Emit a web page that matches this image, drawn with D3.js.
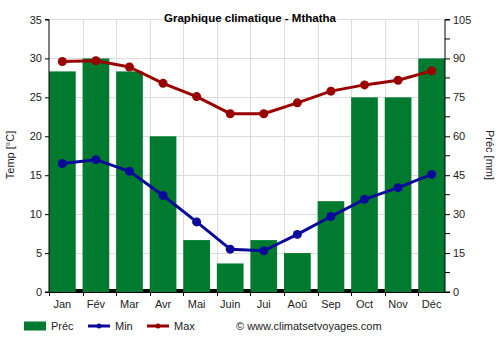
<!DOCTYPE html>
<html><head><meta charset="utf-8">
<script src="https://cdn.jsdelivr.net/npm/d3@7"></script>
<style>body{margin:0;background:#fff}svg{display:block;font-family:"Liberation Sans",Arial,sans-serif}</style>
</head><body><svg id="c" width="500" height="350"></svg>
<script>
const months = ["Jan","Fév","Mar","Avr","Mai","Juin","Jui","Aoû","Sep","Oct","Nov","Déc"];
const precip = [85,90,85,60,20,11,20,15,35,75,75,90];
const tMin = [16.5,17.0,15.5,12.4,9.0,5.5,5.3,7.4,9.7,11.9,13.4,15.1];
const tMax = [29.6,29.7,28.9,26.8,25.1,22.9,22.9,24.3,25.8,26.6,27.2,28.4];
const tempTicks = [0,5,10,15,20,25,30,35];
const precTicks = [0,15,30,45,60,75,90,105];
const precMinor = [7.5,22.5,37.5,52.5,67.5,82.5,97.5];

const svg = d3.select("#c");
const L = 49, R = 445, T = 19.5, B = 292;
const x = d3.scaleBand().domain(months).range([L, R]).paddingInner(0.205).paddingOuter(0);
const yT = d3.scaleLinear().domain([0,35]).range([B, T]);
const yP = d3.scaleLinear().domain([0,105]).range([B, T]);
const green = "#007a2f", blue = "#0a0a9a", red = "#990000", grid = "#dcdcdc";

// grid
svg.append("g").selectAll("line").data(tempTicks.slice(1)).join("line")
  .attr("x1", L).attr("x2", R).attr("y1", d=>yT(d)).attr("y2", d=>yT(d))
  .attr("stroke", grid).attr("stroke-width", 1).attr("shape-rendering","crispEdges");
svg.append("g").selectAll("line").data(months.slice(1)).join("line")
  .attr("x1", d=>Math.round(x(d))+0.5).attr("x2", d=>Math.round(x(d))+0.5).attr("y1", T).attr("y2", B)
  .attr("stroke", grid).attr("stroke-width", 1);

// black strip
svg.append("rect").attr("x", L).attr("y", B-3).attr("width", R-L).attr("height", 3).attr("fill", "#000");

// bars
svg.append("g").selectAll("rect").data(precip).join("rect")
  .attr("x", (d,i)=>x(months[i])).attr("width", x.bandwidth())
  .attr("y", d=>yP(d)).attr("height", d=>B-yP(d)).attr("fill", green);

// axes
const fs = 11;
const leftAx = svg.append("g").attr("transform", `translate(${L},0)`)
  .call(d3.axisLeft(yT).tickValues(tempTicks).tickSize(4).tickPadding(3));
const rightAx = svg.append("g").attr("transform", `translate(${R},0)`)
  .call(d3.axisRight(yP).tickValues(precTicks).tickSize(5).tickPadding(3));
svg.append("g").attr("transform", `translate(${R},0)`).selectAll("line").data(precMinor).join("line")
  .attr("x1",0).attr("x2",5).attr("y1", d=>yP(d)).attr("y2", d=>yP(d)).attr("stroke","#000");
const bottomAx = svg.append("g").attr("transform", `translate(0,${B})`)
  .call(d3.axisBottom(x).tickSize(0).tickPadding(8));
svg.append("g").attr("transform", `translate(0,${B})`).selectAll("line").data(months.slice(1)).join("line")
  .attr("x1", d=>Math.round(x(d))+0.5).attr("x2", d=>Math.round(x(d))+0.5).attr("y1",0).attr("y2",4).attr("stroke","#000");
[leftAx, rightAx, bottomAx].forEach(g=>{
  g.selectAll("text").attr("font-size", fs).attr("fill", "#222").attr("font-family","Liberation Sans, Arial, sans-serif");
  g.select(".domain").attr("stroke","#000");
  g.selectAll(".tick line").attr("stroke","#000");
});
leftAx.select(".domain").attr("d", `M-4,${T}H0V${B}H-4`);
rightAx.select(".domain").attr("d", `M5,${T}H0V${B}H5`);
bottomAx.select(".domain").attr("d", `M${L},0.5H${R}`);
bottomAx.append("line").attr("x1", L+0.5).attr("x2", L+0.5).attr("y1",0).attr("y2",4).attr("stroke","#000");

// lines
const lineGen = d3.line().x((d,i)=>x(months[i])+x.bandwidth()/2).y(d=>yT(d));
[[tMin, blue],[tMax, red]].forEach(([data,col])=>{
  svg.append("path").datum(data).attr("d", lineGen).attr("fill","none")
    .attr("stroke", col).attr("stroke-width", 3).attr("stroke-linejoin","round");
  svg.append("g").selectAll("circle").data(data).join("circle")
    .attr("cx",(d,i)=>x(months[i])+x.bandwidth()/2).attr("cy", d=>yT(d)).attr("r", 4.5).attr("fill", col);
});

// title & labels
svg.append("text").attr("x", 250).attr("y", 22).attr("text-anchor","middle")
  .attr("font-size", 11.5).attr("font-weight","bold").attr("fill","#000").text("Graphique climatique - Mthatha");
svg.append("text").attr("transform","translate(14,155) rotate(-90)").attr("text-anchor","middle")
  .attr("font-size", 11).attr("fill","#222").text("Temp [°C]");
svg.append("text").attr("transform","translate(486,155) rotate(90)").attr("text-anchor","middle")
  .attr("font-size", 11).attr("fill","#222").text("Préc [mm]");

// legend
const ly = 326;
svg.append("rect").attr("x",24).attr("y",ly-4.5).attr("width",22).attr("height",9).attr("fill",green);
svg.append("text").attr("x",51).attr("y",ly+4).attr("font-size",11).attr("fill","#222").text("Préc");
[[88,"Min",blue],[147,"Max",red]].forEach(([lx,t,col])=>{
  svg.append("line").attr("x1",lx).attr("x2",lx+22).attr("y1",ly).attr("y2",ly).attr("stroke",col).attr("stroke-width",3);
  svg.append("circle").attr("cx",lx+11).attr("cy",ly).attr("r",2.5).attr("fill",col);
  svg.append("text").attr("x",lx+27).attr("y",ly+4).attr("font-size",11).attr("fill","#222").text(t);
});
svg.append("text").attr("x",236).attr("y",ly+4).attr("font-size",11).attr("fill","#222").text("© www.climatsetvoyages.com");
</script></body></html>
